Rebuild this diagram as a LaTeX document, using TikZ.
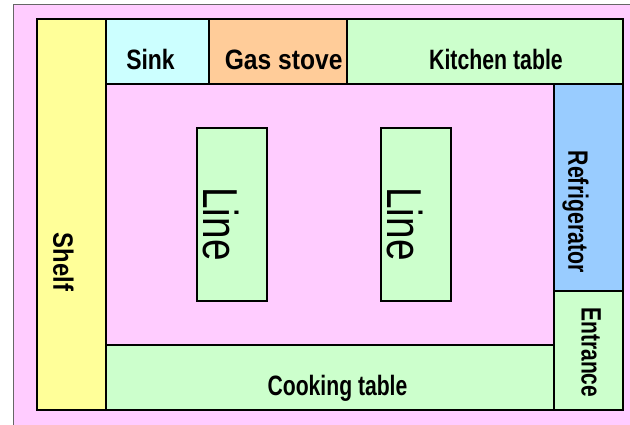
\documentclass[tikz,border=0pt]{standalone}
\usepackage{graphicx}
\usepackage{fontspec}
\setmainfont{Liberation Sans}
\definecolor{roompink}{HTML}{FFCCFF}
\definecolor{shelfyellow}{HTML}{FFFF99}
\definecolor{sinkcyan}{HTML}{CCFFFF}
\definecolor{stoveorange}{HTML}{FFCC99}
\definecolor{tablegreen}{HTML}{CCFFCC}
\definecolor{fridgeblue}{HTML}{99CCFF}
\newcommand\cnd[2]{\scalebox{#1}[1]{#2}}
\tikzset{
  box/.style={draw=black, line width=1.2pt},
  lbl/.style={inner sep=0pt, anchor=base, font=\fontsize{28}{30}\selectfont\bfseries},
  linelbl/.style={inner sep=0pt, anchor=base, font=\fontsize{49}{52}\selectfont, rotate=-90},
  vlbl/.style={lbl, rotate=-90}
}
\begin{document}
\begin{tikzpicture}[x=1pt,y=-1pt]
\useasboundingbox (0,0) rectangle (630,425);
\clip (0,0) rectangle (630,425);
% outer room
\draw[draw=gray!80!black, line width=0.9pt, fill=roompink] (13.5,4) rectangle (640,440);
% inner area
\draw[box, fill=roompink] (37,19) rectangle (623,410);
% furniture
\draw[box, fill=shelfyellow] (37,19) rectangle (106,410);
\draw[box, fill=sinkcyan] (106,19) rectangle (209,84);
\draw[box, fill=stoveorange] (209,19) rectangle (347,84);
\draw[box, fill=tablegreen] (347,19) rectangle (623,84);
\draw[box, fill=fridgeblue] (554,84) rectangle (623,291);
\draw[box, fill=tablegreen] (554,291) rectangle (623,410);
\draw[box, fill=tablegreen] (106,345) rectangle (554,410);
\draw[box, fill=tablegreen] (197,128) rectangle (267,301);
\draw[box, fill=tablegreen] (381,128) rectangle (451,301);
% labels
\node[lbl] (sink) at (150.5,70) {\cnd{0.82}{Sink}};
\node[lbl] (gas) at (283.7,70) {\cnd{0.88}{Gas stove}};
\node[lbl] (kitchen) at (496,69.5) {\cnd{0.76}{Kitchen table}};
\node[lbl] (cooking) at (337.5,395) {\cnd{0.755}{Cooking table}};
\node[vlbl] (shelf) at (53.3,262) {\cnd{0.85}{Shelf}};
\node[vlbl] (fridge) at (568.3,211.7) {\cnd{0.76}{Refrigerator}};
\node[vlbl] (entrance) at (581.7,352.3) {\cnd{0.75}{Entrance}};
\node[linelbl] (line1) at (203.3,224) {\cnd{0.79}{Line}};
\node[linelbl] (line2) at (387.5,224) {\cnd{0.79}{Line}};
\end{tikzpicture}
\end{document}
